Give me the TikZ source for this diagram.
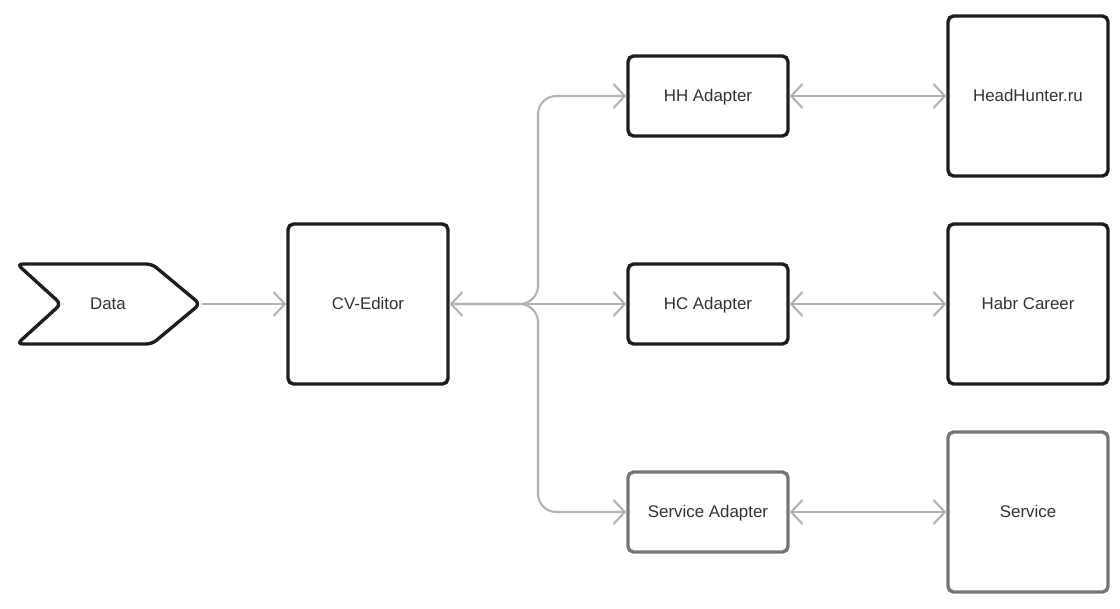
\documentclass[tikz,border=0pt]{standalone}
\usepackage{fontspec}
\setmainfont{Liberation Sans}
\usepackage{tikz}
\usetikzlibrary{arrows.meta}
\definecolor{inkk}{HTML}{1E1E1E}
\definecolor{inkg}{HTML}{757575}
\definecolor{wire}{HTML}{B3B3B3}
\definecolor{txt}{HTML}{333333}
\tikzset{
  label_t/.style = {font=\fontsize{12}{14}\selectfont, text=txt,
    text height=1.6ex, text depth=0pt},% label text
  blocknode/.style = {label_t, align=center, inner sep=0pt, text centered,
    rounded corners=4pt, line width=2.4pt, fill=white},
  box_k/.style = {blocknode, draw=inkk, minimum width=4cm,
    minimum height=2cm},% adapter, black
  box_g/.style = {blocknode, draw=inkg, minimum width=4cm,
    minimum height=2cm},% adapter, grey
  site_k/.style = {box_k, minimum height=4cm},% external site, black
  site_g/.style = {box_g, minimum height=4cm},% external site, grey
  link/.style = {draw=wire, line width=1.5pt,
    arrows={-Straight Barb[length=8pt, width=17pt]}},
  dlink/.style = {link,
    arrows={Straight Barb[length=8pt, width=17pt]-Straight Barb[length=8pt, width=17pt]}}
}

\begin{document}
\begin{tikzpicture}[x=0.025cm, y=-0.025cm]
		\useasboundingbox (0,0) rectangle (1120,608);
		% data source
		\draw [draw=inkk, line width=2.4pt, rounded corners=4pt, fill=white]
		  (17,264) -- (152,264) -- (200,304) -- (152,344) -- (17,344)
		  -- (61,304) -- cycle;
		\node [label_t] (data) at (108,304) {Data};
		\coordinate (datatip) at (202,304);
		% editor
		\node [site_k] (cv) at (368,304) {CV-Editor};
		% adapters
		\node [box_k] (hh) at (708,96) {HH Adapter};
		\node [box_k] (hc) at (708,304) {HC Adapter};
		\node [box_g] (sa) at (708,512) {Service Adapter};
		% sites
		\node [site_k] (hhru) at (1028,96) {HeadHunter.ru};
		\node [site_k] (habr) at (1028,304) {Habr Career};
		\node [site_g] (svc) at (1028,512) {Service};
		% links
		\coordinate (split) at (538,304);
		\draw [link] (datatip) -- (cv.west);
		\draw [dlink] (cv.east) -- (hc.west);
		\draw [link, rounded corners=13pt] (cv.east) -- (split) |- (hh.west);
		\draw [link, rounded corners=13pt] (cv.east) -- (split) |- (sa.west);
		\draw [dlink] (hh.east) -- (hhru.west);
		\draw [dlink] (hc.east) -- (habr.west);
		\draw [dlink] (sa.east) -- (svc.west);
	\end{tikzpicture}
\end{document}
